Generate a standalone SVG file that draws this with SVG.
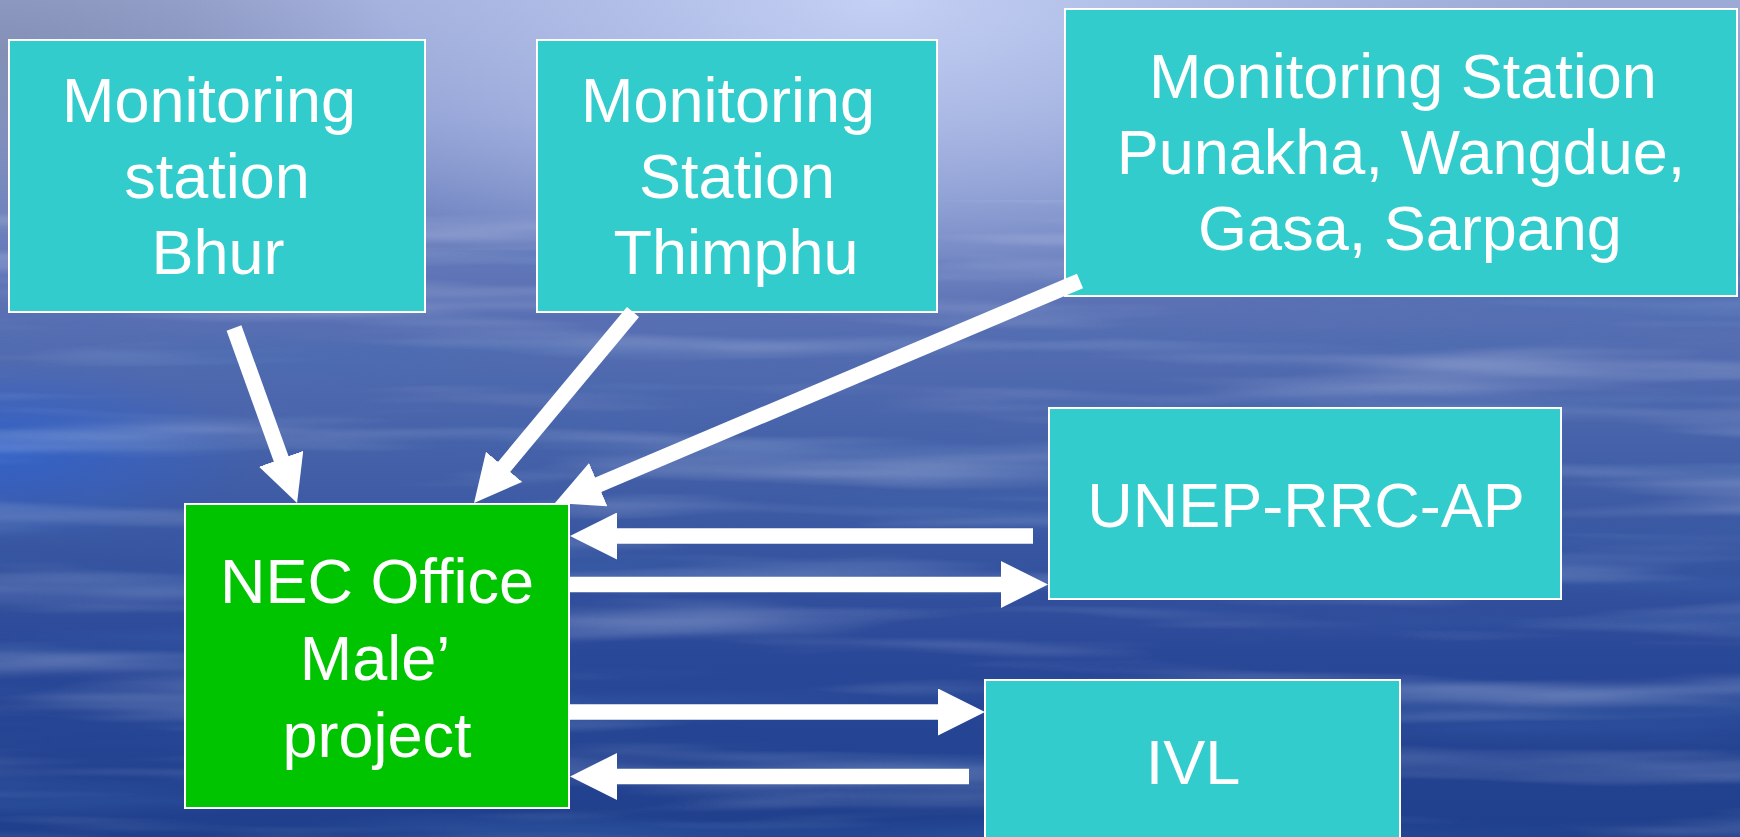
<svg xmlns="http://www.w3.org/2000/svg" width="1740" height="837" viewBox="0 0 1740 837">
<style>
.box{fill:#33CCCC;stroke:#ffffff;stroke-width:2}
.green{fill:#00C400;stroke:#ffffff;stroke-width:2}
.lbl{font-family:"Liberation Sans",Arial,sans-serif;font-size:63px;fill:#ffffff;text-anchor:middle}
.conn{stroke:#ffffff;stroke-width:15.7;fill:none;marker-end:url(#head)}
</style>
<defs>
<marker id="head" markerUnits="userSpaceOnUse" viewBox="0 0 47 47" markerWidth="47" markerHeight="47" refX="7" refY="23.5" orient="auto">
<path d="M0,0 L47,23.5 L0,47 Z" fill="#ffffff"/>
</marker>
<linearGradient id="bg" x1="0" y1="0" x2="0" y2="1">
<stop offset="0" stop-color="#9eaad6"/>
<stop offset="0.14" stop-color="#8a9acf"/>
<stop offset="0.33" stop-color="#5e74b6"/>
<stop offset="0.55" stop-color="#4360a8"/>
<stop offset="0.78" stop-color="#2a4898"/>
<stop offset="1" stop-color="#1f3f8c"/>
</linearGradient>
<radialGradient id="glow" cx="880" cy="0" r="700" gradientUnits="userSpaceOnUse" gradientTransform="translate(880 0) scale(1 0.45) translate(-880 0)">
<stop offset="0" stop-color="#c4d0f4" stop-opacity="1"/>
<stop offset="0.6" stop-color="#b4c2ec" stop-opacity="0.5"/>
<stop offset="1" stop-color="#b4c2ec" stop-opacity="0"/>
</radialGradient>
<radialGradient id="leftblue" cx="0" cy="450" r="260" gradientUnits="userSpaceOnUse" gradientTransform="translate(0 450) scale(1 0.35) translate(0 -450)">
<stop offset="0" stop-color="#2f62d0" stop-opacity="0.8"/>
<stop offset="1" stop-color="#2f62d0" stop-opacity="0"/>
</radialGradient>
<radialGradient id="topleft" cx="0" cy="60" r="400" gradientUnits="userSpaceOnUse" gradientTransform="translate(0 60) scale(1 0.5) translate(0 -60)">
<stop offset="0" stop-color="#7a86a8" stop-opacity="0.7"/>
<stop offset="1" stop-color="#7a86a8" stop-opacity="0"/>
</radialGradient>
<filter id="lightStreaks" x="0" y="0" width="100%" height="100%">
<feTurbulence type="fractalNoise" baseFrequency="0.0018 0.028" numOctaves="3" seed="7"/>
<feColorMatrix type="matrix" values="0 0 0 0 0.85  0 0 0 0 0.9  0 0 0 0 1  1.6 0 0 0 -0.75"/>
</filter>
<filter id="darkStreaks" x="0" y="0" width="100%" height="100%">
<feTurbulence type="fractalNoise" baseFrequency="0.0015 0.022" numOctaves="3" seed="21"/>
<feColorMatrix type="matrix" values="0 0 0 0 0.05  0 0 0 0 0.15  0 0 0 0 0.45  1.6 0 0 0 -0.75"/>
</filter>
</defs>
<g id="background">
<rect width="1740" height="837" fill="url(#bg)"/>
<rect width="1740" height="837" fill="url(#glow)"/>
<rect width="1740" height="837" fill="url(#topleft)"/>
<rect width="1740" height="837" fill="url(#leftblue)"/>
<rect y="200" width="1740" height="637" filter="url(#lightStreaks)" opacity="0.45"/>
<rect y="250" width="1740" height="587" filter="url(#darkStreaks)" opacity="0.55"/>
</g>
<g id="node-bhur">
<rect class="box" x="9" y="40" width="416" height="272"/>
<text class="lbl" x="209" y="122">Monitoring</text>
<text class="lbl" x="217" y="198">station</text>
<text class="lbl" x="218" y="274">Bhur</text>
</g>
<g id="node-thimphu">
<rect class="box" x="537" y="40" width="400" height="272"/>
<text class="lbl" x="728" y="122">Monitoring</text>
<text class="lbl" x="737" y="198">Station</text>
<text class="lbl" x="736" y="274">Thimphu</text>
</g>
<g id="node-punakha">
<rect class="box" x="1065" y="9" width="672" height="287"/>
<text class="lbl" x="1403" y="98">Monitoring Station</text>
<text class="lbl" x="1401" y="174">Punakha, Wangdue,</text>
<text class="lbl" x="1410" y="250">Gasa, Sarpang</text>
</g>
<g id="node-unep">
<rect class="box" x="1049" y="408" width="512" height="191"/>
<text class="lbl" x="1306" y="527">UNEP-RRC-AP</text>
</g>
<g id="node-ivl">
<rect class="box" x="985" y="680" width="415" height="170"/>
<text class="lbl" x="1193" y="784">IVL</text>
</g>
<g id="node-nec">
<rect class="green" x="185" y="504" width="384" height="304"/>
<text class="lbl" x="377" y="603">NEC Office</text>
<text class="lbl" x="375" y="680">Male’</text>
<text class="lbl" x="377" y="757">project</text>
</g>
<g id="connectors">
<line class="conn" x1="234" y1="328" x2="283.5" y2="465.4"/>
<line class="conn" x1="633" y1="312" x2="499.6" y2="472.2"/>
<line class="conn" x1="1080" y1="281" x2="591.8" y2="487.4"/>
<line class="conn" x1="1033" y1="536" x2="610" y2="536"/>
<line class="conn" x1="570" y1="584.5" x2="1008" y2="584.5"/>
<line class="conn" x1="570" y1="712" x2="945" y2="712"/>
<line class="conn" x1="969" y1="776.5" x2="610" y2="776.5"/>
</g>
</svg>
